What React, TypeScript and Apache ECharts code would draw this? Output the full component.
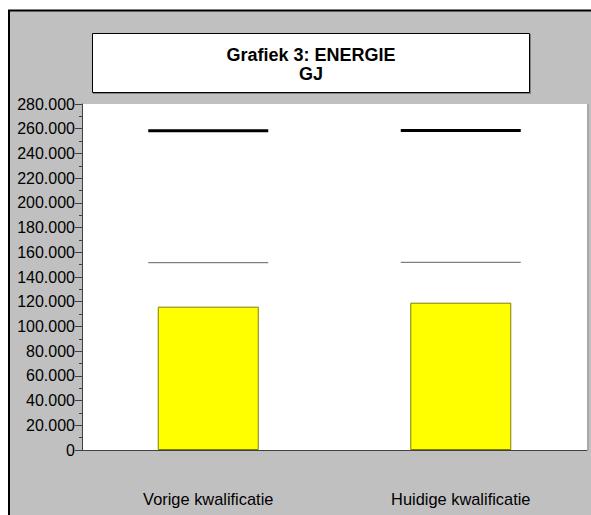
import React, { useEffect, useRef } from "react";
import * as echarts from "echarts";

const categories = ["Vorige kwalificatie", "Huidige kwalificatie"];
const barValues = [116000, 119200];
const upperLimit = [258300, 258600];
const lowerLimit = [151700, 151900];
const yTicks = { min: 0, max: 280000, interval: 20000 };
const titleLines = ["Grafiek 3: ENERGIE", "GJ"];

const fmt = (v: number) => String(v).replace(/\B(?=(\d{3})+(?!\d))/g, ".");

export default function App() {
  const ref = useRef<HTMLDivElement>(null);
  useEffect(() => {
    if (!ref.current) return;
    const chart = echarts.init(ref.current, null, { renderer: "svg" });
    const font = "Arial, 'Liberation Sans', sans-serif";
    chart.setOption({
      animation: false,
      backgroundColor: "#C0C0C0",
      textStyle: { fontFamily: font },
      graphic: [
        { type: "rect", shape: { x: 0, y: 0, width: 591, height: 10 }, style: { fill: "#fff" }, silent: true },
        { type: "rect", shape: { x: 0, y: 0, width: 8, height: 515 }, style: { fill: "#fff" }, silent: true },
        { type: "line", shape: { x1: 8, y1: 10.5, x2: 591, y2: 10.5 }, style: { stroke: "#000", lineWidth: 2 }, silent: true },
        { type: "line", shape: { x1: 9, y1: 10, x2: 9, y2: 515 }, style: { stroke: "#000", lineWidth: 2 }, silent: true },
        { type: "rect", shape: { x: 93, y: 34, width: 438, height: 60 }, style: { fill: "#808080" }, silent: true },
        { type: "rect", shape: { x: 92.5, y: 33.5, width: 437, height: 59 }, style: { fill: "#fff", stroke: "#000", lineWidth: 1 }, silent: true },
        { type: "line", shape: { x1: 588, y1: 104, x2: 588, y2: 450 }, style: { stroke: "#A8A8A8", lineWidth: 2 }, silent: true },
        {
          type: "text",
          x: 311,
          y: 54.5,
          style: {
            text: titleLines[0],
            align: "center",
            verticalAlign: "middle",
            fontSize: 18,
            fontWeight: "bold",
            fontFamily: font,
            fill: "#000",
          },
          silent: true,
        },
        {
          type: "text",
          x: 311,
          y: 73.5,
          style: {
            text: titleLines[1],
            align: "center",
            verticalAlign: "middle",
            fontSize: 18,
            fontWeight: "bold",
            fontFamily: font,
            fill: "#000",
          },
          silent: true,
        },
      ],
      grid: { left: 82, right: 4, top: 104, bottom: 65, show: true, backgroundColor: "#fff", borderWidth: 0, outerBoundsMode: "none" },
      xAxis: {
        type: "category",
        data: categories,
        axisLine: { lineStyle: { color: "#404040", width: 1 } },
        axisTick: { show: false },
        axisLabel: { color: "#000", fontSize: 16.4, margin: 41, fontFamily: font },
      },
      yAxis: {
        type: "value",
        min: yTicks.min,
        max: yTicks.max,
        interval: yTicks.interval,
        axisLine: { show: true, lineStyle: { color: "#404040", width: 1 } },
        axisTick: { show: true, length: 7, lineStyle: { color: "#404040" } },
        minorTick: { show: true, splitNumber: 2, length: 3, lineStyle: { color: "#404040" } },
        splitLine: { show: false },
        axisLabel: { color: "#000", fontSize: 16, margin: 7, fontFamily: font, formatter: (v: number) => fmt(v) },
      },
      series: [
        {
          type: "bar",
          data: barValues,
          barWidth: 101,
          itemStyle: { color: "#FFFF00", borderColor: "#808000", borderWidth: 1 },
          z: 2,
        },
        {
          type: "scatter",
          data: upperLimit,
          symbol: "rect",
          symbolSize: [120, 3],
          itemStyle: { color: "#000", opacity: 1 },
          z: 3,
        },
        {
          type: "scatter",
          data: lowerLimit,
          symbol: "rect",
          symbolSize: [120, 1.2],
          itemStyle: { color: "#808080", opacity: 1 },
          z: 3,
        },
      ],
    });
    return () => chart.dispose();
  }, []);
  return <div ref={ref} style={{ position: "fixed", left: 0, top: 0, width: 591, height: 515 }} />;
}
